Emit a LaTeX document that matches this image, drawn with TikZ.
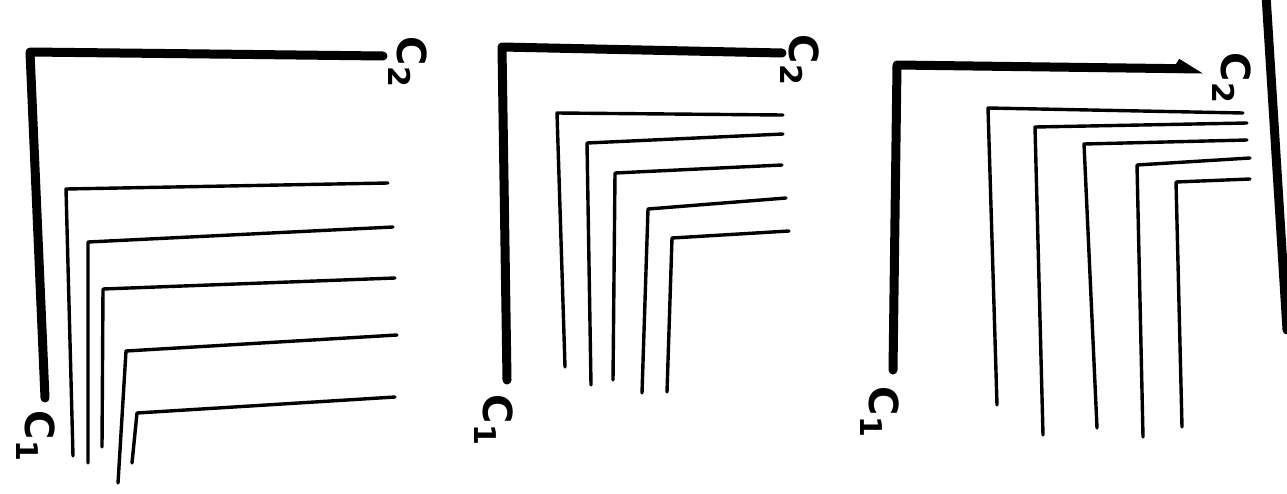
\documentclass[tikz,border=0pt]{standalone}
\usepackage{fontspec}
\setsansfont{DejaVu Sans}
\usetikzlibrary{arrows.meta}
\begin{document}
\begin{tikzpicture}[x=1pt,y=-1pt,
  axis/.style={line width=9pt,line cap=round,line join=round},
  curve/.style={line width=3.4pt,line cap=round,line join=round},
  lbl/.style={rotate=-90,font=\sffamily\bfseries\fontsize{40}{44}\selectfont,inner sep=0pt},
  sub/.style={font=\sffamily\bfseries\fontsize{30}{32}\selectfont},
  edge/.style={line width=9pt,line cap=round}]
\useasboundingbox (0,0) rectangle (1287,493);
% ---------- panel 1 ----------
\coordinate (a1) at (30,52);
\draw[axis] (383,56) -- (210,54) -- (a1) -- (45,398);
\node[lbl] (p1c1) at (36,436) {C\raisebox{-9pt}{\fontsize{30}{32}\selectfont 1}};
\node[lbl] (p1c2) at (408,62) {C\raisebox{-9pt}{\fontsize{30}{32}\selectfont 2}};
\draw[curve] (388,183) -- (66,189) -- (73,456);
\draw[curve] (393,227) -- (88,242) -- (88,463);
\draw[curve] (395,278) -- (103,289) -- (102,447);
\draw[curve] (397,335) -- (126,351) -- (118,483);
\draw[curve] (395,397) -- (137,413) -- (132,463);
% ---------- panel 2 ----------
\coordinate (a2) at (502,47);
\draw[axis] (782,53) -- (a2) -- (507,380);
\node[lbl] (p2c1) at (494,420) {C\raisebox{-9pt}{\fontsize{30}{32}\selectfont 1}};
\node[lbl] (p2c2) at (800,60) {C\raisebox{-9pt}{\fontsize{30}{32}\selectfont 2}};
\draw[curve] (783,115) -- (557,113) -- (565,367);
\draw[curve] (783,134) -- (587,143) -- (591,385);
\draw[curve] (782,165) -- (615,173) -- (613,380);
\draw[curve] (786,198) -- (648,209) -- (642,393);
\draw[curve] (789,231) -- (672,238) -- (667,392);
% ---------- panel 3 ----------
\coordinate (a3) at (897,65);
\draw[axis,-{Straight Barb[length=10pt,width=12pt,left]}] (893,370) -- (a3) -- (1203,69);
\node[lbl] (p3c1) at (880,412) {C\raisebox{-9pt}{\fontsize{30}{32}\selectfont 1}};
\node[lbl] (p3c2) at (1232,78) {C\raisebox{-9pt}{\fontsize{30}{32}\selectfont 2}};
\draw[curve] (1243,113) -- (988,108) -- (997,405);
\draw[curve] (1247,123) -- (1035,127) -- (1043,435);
\draw[curve] (1247,140) -- (1084,144) -- (1097,428);
\draw[curve] (1250,158) -- (1137,165) -- (1143,437);
\draw[curve] (1250,179) -- (1176,182) -- (1182,427);
% ---------- right edge ----------
\coordinate (e1) at (1266,-5);
\coordinate (e2) at (1287,330);
\draw[edge] (e1) -- (e2);
\end{tikzpicture}
\end{document}
